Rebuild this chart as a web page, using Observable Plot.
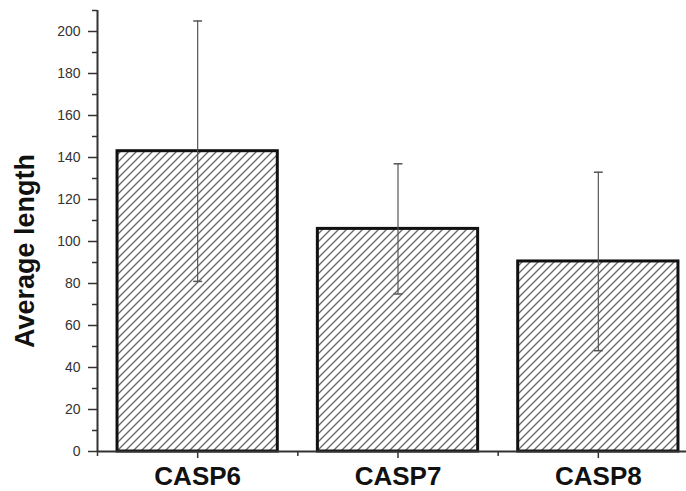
<!DOCTYPE html>
<html>
<head>
<meta charset="utf-8">
<script src="https://cdn.jsdelivr.net/npm/d3@7"></script>
<script src="https://cdn.jsdelivr.net/npm/@observablehq/plot@0.6"></script>
<style>
  html, body { margin: 0; padding: 0; background: #fff; overflow: hidden; }
  #chart svg { overflow: hidden; }
</style>
</head>
<body>
<div id="chart"></div>
<script>
// Average length per caspase, with standard deviation
const categories = ["CASP6", "CASP7", "CASP8"];
const means = [143, 106, 90.5];
const sds = [62, 31, 42.5];

const yTicks = [0, 20, 40, 60, 80, 100, 120, 140, 160, 180, 200];
const yMinorTicks = [10, 30, 50, 70, 90, 110, 130, 150, 170, 190, 210];
const xTicks = [1, 2, 3];
const xMinorTicks = [0.5, 1.5, 2.5, 3.5];

const data = categories.map((name, i) => ({
  name,
  pos: i + 1,
  mean: means[i],
  lo: means[i] - sds[i],
  hi: means[i] + sds[i]
}));

const font = "Arial, 'Liberation Sans', Helvetica, sans-serif";

// diagonal hatch fill for the bars
const hatchDefs = () => {
  const defs = d3.create("svg:defs");
  const p = defs.append("pattern")
    .attr("id", "hatch")
    .attr("patternUnits", "userSpaceOnUse")
    .attr("width", 8)
    .attr("height", 8);
  p.append("rect").attr("width", 8).attr("height", 8).attr("fill", "#fff");
  p.append("path")
    .attr("d", "M-2,2 L2,-2 M0,8 L8,0 M6,10 L10,6")
    .attr("stroke", "#666")
    .attr("stroke-width", 1.3);
  return defs.node();
};

// short horizontal stroke used as error-bar cap
const capSymbol = {
  draw(context, size) {
    const r = Math.sqrt(size) / 2;
    context.moveTo(-r, 0);
    context.lineTo(r, 0);
  }
};

const chart = Plot.plot({
  width: 686,
  height: 491,
  marginTop: 10,
  marginLeft: 97,
  marginBottom: 40,
  marginRight: 0,
  style: { fontFamily: font, background: "#fff" },
  x: { domain: [0.5, 3.5], range: [97, 698] },
  y: { domain: [0, 210] },
  marks: [
    hatchDefs,
    Plot.rectY(data, {
      x1: d => d.pos - 0.4,
      x2: d => d.pos + 0.4,
      y: "mean",
      fill: "url(#hatch)",
      stroke: "#111",
      strokeWidth: 3
    }),
    Plot.ruleX(data, { x: "pos", y1: "lo", y2: "hi", stroke: "#555", strokeWidth: 1.2 }),
    Plot.dot(data, { x: "pos", y: "hi", symbol: capSymbol, r: 5, stroke: "#555", strokeWidth: 1.5, fill: "none" }),
    Plot.dot(data, { x: "pos", y: "lo", symbol: capSymbol, r: 5, stroke: "#555", strokeWidth: 1.5, fill: "none" }),
    // axes
    Plot.axisY(yTicks, {
      tickSize: 9, tickPadding: 8, fontSize: 14, fill: "#333", stroke: "#333", strokeWidth: 1.5, label: null
    }),
    Plot.axisY(yMinorTicks, {
      tickSize: 5, tickFormat: () => "", stroke: "#333", strokeWidth: 1.5, label: null
    }),
    Plot.axisX(xTicks, {
      tickSize: 7, tickPadding: 8, fontSize: 26, fontWeight: "bold", fill: "#111", stroke: "#333", strokeWidth: 1.5,
      tickFormat: i => categories[i - 1], label: null
    }),
    Plot.axisX(xMinorTicks, {
      tickSize: 5, tickFormat: () => "", stroke: "#333", strokeWidth: 1.5, label: null
    }),
    Plot.ruleX([0.5], { y1: 0, y2: 210, stroke: "#333", strokeWidth: 2 }),
    Plot.ruleY([0], { stroke: "#333", strokeWidth: 2 }),
    Plot.text(["Average length"], {
      frameAnchor: "left",
      textAnchor: "middle",
      rotate: -90,
      dx: -72,
      dy: 20,
      fontSize: 27,
      fontWeight: "bold",
      fill: "#111"
    })
  ]
});

document.getElementById("chart").append(chart);
</script>
</body>
</html>
